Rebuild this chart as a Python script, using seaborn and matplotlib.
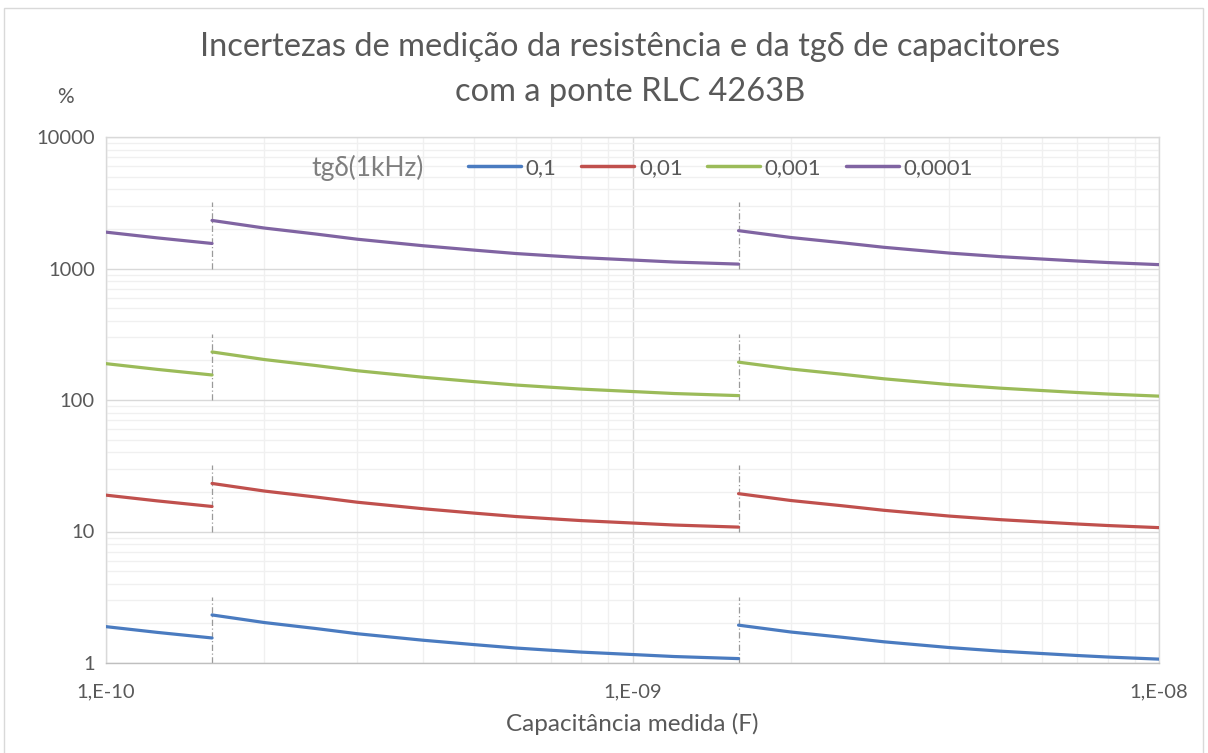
import matplotlib
matplotlib.use("Agg")
import matplotlib.pyplot as plt
import matplotlib.ticker as mticker
from matplotlib.lines import Line2D
from matplotlib.patches import Rectangle
import numpy as np
import pandas as pd
import seaborn as sns

# capacitance points per measuring range (F)
cap_seg1 = [1.0e-10, 1.25e-10, 1.59e-10]
cap_seg2 = [1.59e-10, 2e-10, 2.5e-10, 3e-10, 4e-10, 5e-10, 6e-10, 7e-10, 8e-10, 1e-9, 1.2e-9, 1.59e-9]
cap_seg3 = [1.59e-9, 2e-9, 2.5e-9, 3e-9, 4e-9, 5e-9, 6e-9, 7e-9, 8e-9, 1e-8]
range_breaks = [1.59e-10, 1.59e-9]

series_labels = ["0,1", "0,01", "0,001", "0,0001"]
x_ticks = [1e-10, 1e-9, 1e-8]
x_ticklabels = ["1,E-10", "1,E-09", "1,E-08"]
y_ticks = [1, 10, 100, 1000, 10000]
y_ticklabels = ["1", "10", "100", "1000", "10000"]

# uncertainty (%), per series and per range
u_01 = [[1.89, 1.71, 1.55],
        [2.32, 2.03, 1.83, 1.67, 1.49, 1.38, 1.30, 1.25, 1.21, 1.16, 1.12, 1.08],
        [1.94, 1.72, 1.57, 1.45, 1.31, 1.23, 1.18, 1.14, 1.11, 1.07]]
u_001 = [[18.9, 17.1, 15.5],
         [23.2, 20.3, 18.3, 16.7, 14.9, 13.8, 13.0, 12.5, 12.1, 11.6, 11.2, 10.8],
         [19.4, 17.2, 15.7, 14.5, 13.1, 12.3, 11.8, 11.4, 11.1, 10.7]]
u_0001 = [[189, 171, 155],
          [232, 203, 183, 167, 149, 138, 130, 125, 121, 116, 112, 108],
          [194, 172, 157, 145, 131, 123, 118, 114, 111, 107]]
u_00001 = [[1890, 1710, 1550],
           [2320, 2030, 1830, 1670, 1490, 1380, 1300, 1250, 1210, 1160, 1120, 1080],
           [1940, 1720, 1570, 1450, 1310, 1230, 1180, 1140, 1110, 1070]]

colors = ["#4A7BC0", "#C0504D", "#9BBB59", "#8064A2"]
GRAY = "#595959"

rows = []
for label, segs in zip(series_labels, [u_01, u_001, u_0001, u_00001]):
    for k, (caps, vals) in enumerate(zip([cap_seg1, cap_seg2, cap_seg3], segs)):
        for c, v in zip(caps, vals):
            rows.append({"tg": label, "seg": k, "C": c, "u": v})
df = pd.DataFrame(rows)

sns.set_style("white")
plt.rcParams["font.family"] = ["Lato", "Open Sans", "DejaVu Sans"]

fig = plt.figure(figsize=(12.08, 7.53), dpi=100)
ax = fig.add_axes([106 / 1208, 1 - 663 / 753, (1159 - 106) / 1208, (663 - 137) / 753])

sns.lineplot(data=df, x="C", y="u", hue="tg", units="seg", estimator=None,
             palette=colors, hue_order=series_labels, linewidth=2.3,
             legend=False, ax=ax, zorder=3)

# dashed markers at the range changes
for b in range_breaks:
    for dec in [1, 10, 100, 1000]:
        ax.plot([b, b], [dec, dec * 3.2], color="#9a9a9a", lw=0.9,
                ls=(0, (5, 2, 1, 2)), zorder=2)

ax.set_xscale("log")
ax.set_yscale("log")
ax.set_xlim(1e-10, 1e-8)
ax.set_ylim(1, 10000)

ax.xaxis.set_major_locator(mticker.FixedLocator(x_ticks))
ax.yaxis.set_major_locator(mticker.FixedLocator(y_ticks))
ax.xaxis.set_minor_locator(mticker.LogLocator(base=10, subs=np.arange(2, 10), numticks=20))
ax.yaxis.set_minor_locator(mticker.LogLocator(base=10, subs=np.arange(2, 10), numticks=20))
ax.set_xticklabels(x_ticklabels)
ax.set_yticklabels(y_ticklabels)
ax.xaxis.set_minor_formatter(mticker.NullFormatter())
ax.yaxis.set_minor_formatter(mticker.NullFormatter())

ax.grid(which="major", color="#d9d9d9", lw=1.0, zorder=0)
ax.grid(which="minor", color="#f0f0f0", lw=1.0, zorder=0)
ax.set_axisbelow(True)
for s in ax.spines.values():
    s.set_color("#d9d9d9")
    s.set_linewidth(1.0)
ax.spines["bottom"].set_color("#bfbfbf")

ax.tick_params(axis="both", which="both", length=0, colors=GRAY, labelsize=14.5)
ax.tick_params(axis="x", pad=15)
ax.tick_params(axis="y", pad=8)

ax.set_xlabel("Capacitância medida (F)", fontsize=17.5, color=GRAY, labelpad=9)
ax.set_ylabel("")

fig.text(630 / 1208, 1 - 47 / 753, "Incertezas de medição da resistência e da tgδ de capacitores",
         ha="center", va="center", fontsize=23.5, color=GRAY)
fig.text(630 / 1208, 1 - 92 / 753, "com a ponte RLC 4263B",
         ha="center", va="center", fontsize=23.5, color=GRAY)
fig.text(65 / 1208, 1 - 97 / 753, "%", ha="center", va="center", fontsize=15, color=GRAY)

# legend
fig.text(368 / 1208, 1 - 168 / 753, "tgδ(1kHz)", ha="center", va="center",
         fontsize=19, color="#7f7f7f")
handles = [Line2D([0], [0], color=c, lw=2.5) for c in colors]
leg = ax.legend(handles, series_labels, ncol=4, frameon=False,
                loc="center left", bbox_to_anchor=(468 / 1208, 1 - 168 / 753),
                bbox_transform=fig.transFigure, fontsize=16,
                handlelength=2.4, handletextpad=0.2, columnspacing=1.1,
                borderaxespad=0, borderpad=0)
for t in leg.get_texts():
    t.set_color(GRAY)

fig.patches.append(Rectangle((4 / 1208, -0.05), 1199 / 1208, 1.05 - 8 / 753,
                             transform=fig.transFigure, fill=False,
                             edgecolor="#d9d9d9", lw=1.0))

fig.savefig("out.png", dpi=100)
